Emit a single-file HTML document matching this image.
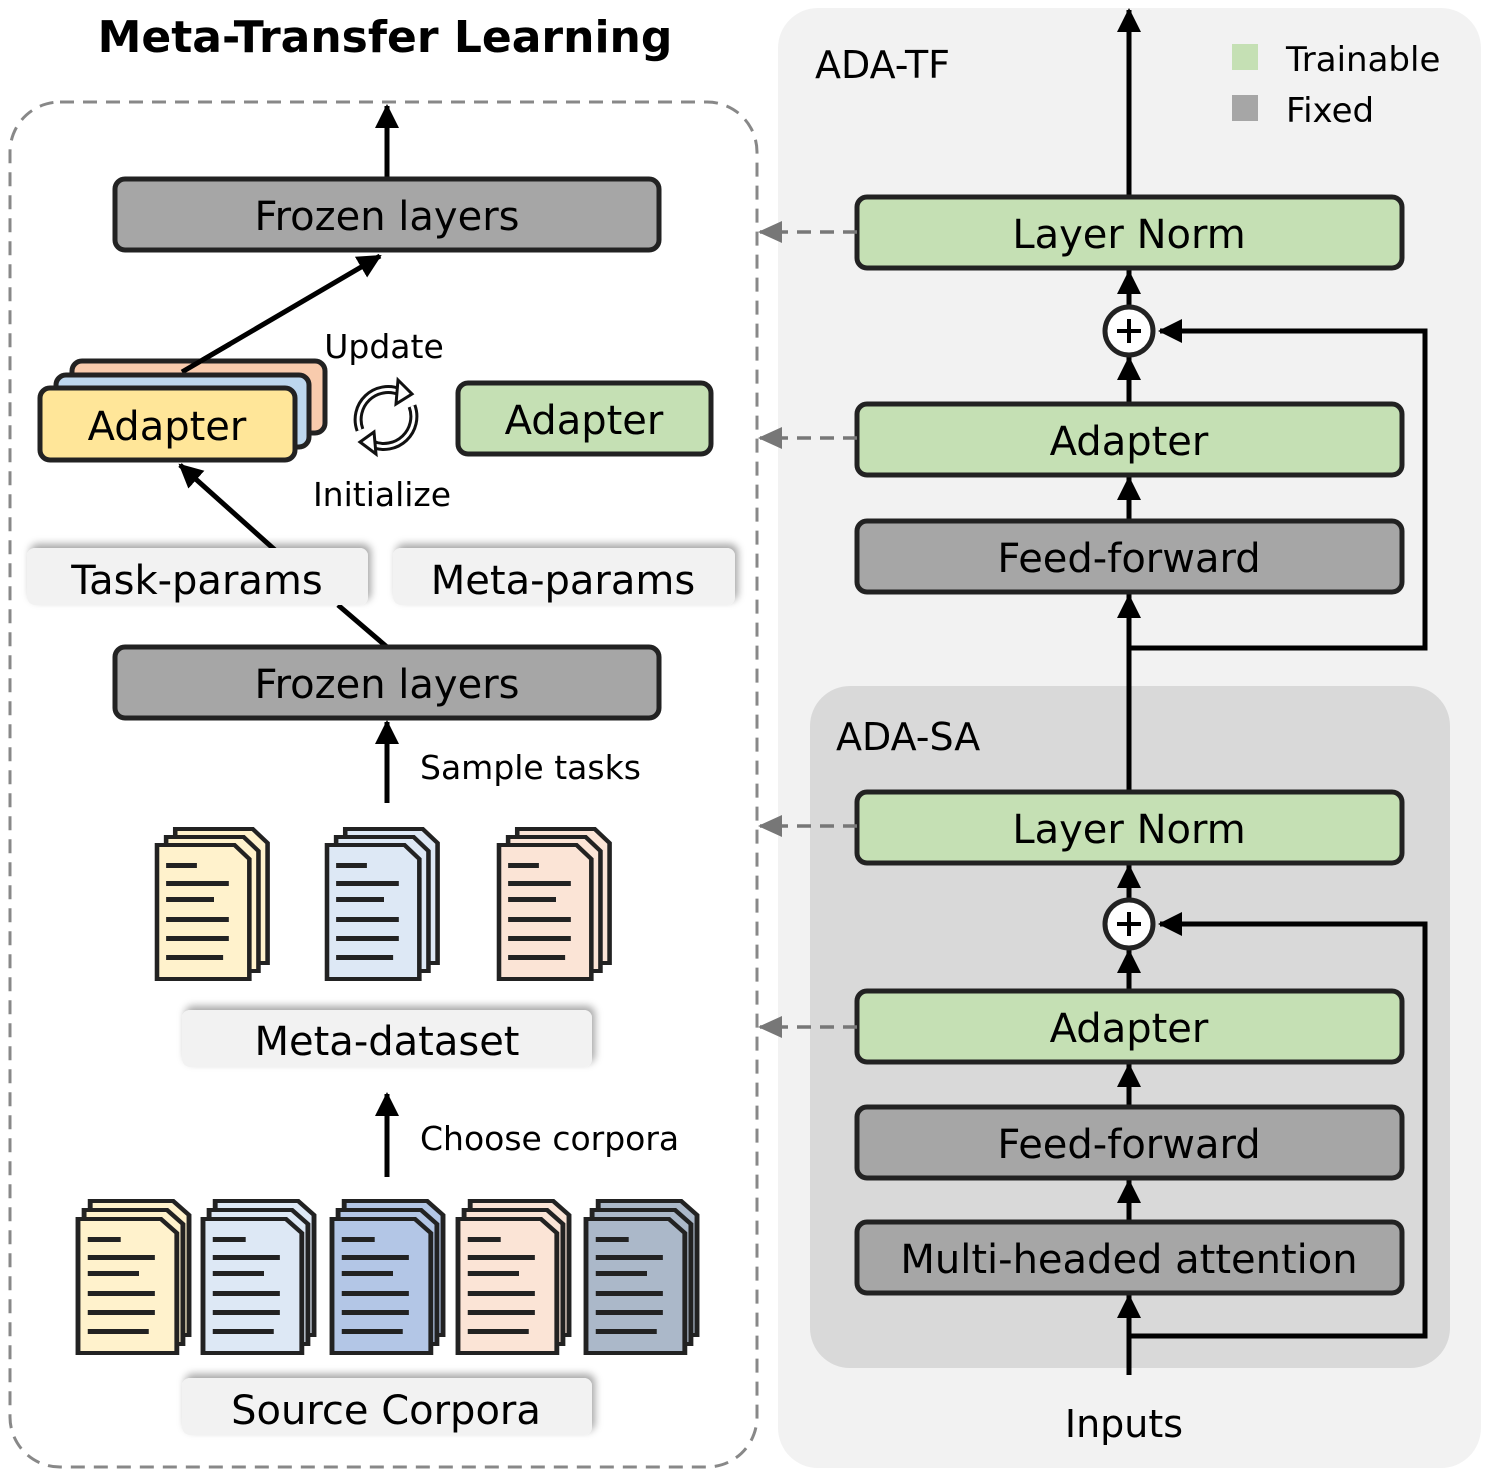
<!DOCTYPE html>
<html><head><meta charset="utf-8"><style>
html,body{margin:0;padding:0;background:#fff}
svg text{font-family:"DejaVu Sans","Liberation Sans",sans-serif}
</style></head><body>
<svg width="1489" height="1475" viewBox="0 0 1489 1475" xmlns="http://www.w3.org/2000/svg">
<defs>
<marker id="ahb" markerWidth="26" markerHeight="24" refX="22" refY="12" orient="auto" markerUnits="userSpaceOnUse"><path d="M0,0 L24,12 L0,24 z" fill="#000"/></marker>
<marker id="ahg" markerWidth="24" markerHeight="22" refX="22" refY="11" orient="auto" markerUnits="userSpaceOnUse"><path d="M0,0 L24,11 L0,22 z" fill="#777"/></marker>
<filter id="sh" x="-10%" y="-30%" width="120%" height="160%"><feDropShadow dx="3" dy="-4" stdDeviation="4" flood-color="#000" flood-opacity="0.35"/></filter>
<g id="page"><path d="M0,0 H68 L81,14 V134 H0 Z" stroke="#222" stroke-width="4"/></g>
<g id="lines" fill="#222"><rect x="8" y="18" width="27" height="5"/><rect x="8" y="36" width="55" height="5"/><rect x="8" y="52" width="42" height="5"/><rect x="8" y="72" width="55" height="5"/><rect x="8" y="91" width="55" height="5"/><rect x="8" y="110" width="50" height="5"/></g>
</defs>

<!-- LEFT -->
<text x="385" y="52" font-size="44" font-weight="bold" text-anchor="middle">Meta-Transfer Learning</text>
<rect x="10" y="102" width="747" height="1365" rx="50" fill="none" stroke="#888" stroke-width="3" stroke-dasharray="14,9"/>

<line x1="387" y1="179" x2="387" y2="106" stroke="#000" stroke-width="5" marker-end="url(#ahb)"/>
<rect x="115" y="179" width="544" height="71" rx="10" fill="#a6a6a6" stroke="#222" stroke-width="5"/>
<text x="387" y="230" font-size="40" text-anchor="middle">Frozen layers</text>

<line x1="182" y1="372" x2="380" y2="256" stroke="#000" stroke-width="5" marker-end="url(#ahb)"/>
<rect x="72" y="361" width="253" height="72" rx="10" fill="#f8cbad" stroke="#222" stroke-width="5"/>
<line x1="182" y1="372" x2="230" y2="344" stroke="#000" stroke-width="5"/>
<rect x="56" y="375" width="253" height="72" rx="10" fill="#bdd7ee" stroke="#222" stroke-width="5"/>
<rect x="40" y="388" width="255" height="72" rx="10" fill="#ffe699" stroke="#222" stroke-width="5"/>
<text x="167" y="440" font-size="40" text-anchor="middle">Adapter</text>
<rect x="458" y="383" width="253" height="71" rx="10" fill="#c5e0b4" stroke="#222" stroke-width="5"/>
<text x="584" y="434" font-size="40" text-anchor="middle">Adapter</text>
<text x="384" y="358" font-size="33" text-anchor="middle">Update</text>
<text x="382" y="506" font-size="33" text-anchor="middle">Initialize</text>
<g fill="none" stroke="#111" stroke-width="9">
<path d="M400,392 A30,30 0 0 0 360,430"/><path d="M372,444 A30,30 0 0 0 412,406"/>
</g>
<g fill="none" stroke="#fff" stroke-width="3">
<path d="M400,392 A30,30 0 0 0 360,430"/><path d="M372,444 A30,30 0 0 0 412,406"/>
</g>
<path d="M398,380 L412,394 L396,404 Z" fill="#fff" stroke="#111" stroke-width="3"/>
<path d="M374,432 L360,442 L376,454 Z" fill="#fff" stroke="#111" stroke-width="3"/>

<line x1="275" y1="550" x2="180" y2="465" stroke="#000" stroke-width="5" marker-end="url(#ahb)"/>
<line x1="338" y1="605" x2="387" y2="647" stroke="#000" stroke-width="5"/>
<rect x="27" y="548" width="341" height="57" rx="8" fill="#f2f2f2" filter="url(#sh)"/>
<text x="197" y="594" font-size="40" text-anchor="middle">Task-params</text>
<rect x="393" y="548" width="342" height="57" rx="8" fill="#f2f2f2" filter="url(#sh)"/>
<text x="563" y="594" font-size="40" text-anchor="middle">Meta-params</text>

<rect x="115" y="647" width="544" height="71" rx="10" fill="#a6a6a6" stroke="#222" stroke-width="5"/>
<text x="387" y="698" font-size="40" text-anchor="middle">Frozen layers</text>
<line x1="387" y1="803" x2="387" y2="722" stroke="#000" stroke-width="5" marker-end="url(#ahb)"/>
<text x="420" y="779" font-size="33">Sample tasks</text>

<g transform="translate(157,845) scale(1.14,1)">
<use href="#page" x="16" y="-16" fill="#fff2cc"/><use href="#page" x="8" y="-8" fill="#fff2cc"/><use href="#page" fill="#fff2cc"/><use href="#lines"/></g>
<g transform="translate(327,845) scale(1.14,1)">
<use href="#page" x="16" y="-16" fill="#dde8f5"/><use href="#page" x="8" y="-8" fill="#dde8f5"/><use href="#page" fill="#dde8f5"/><use href="#lines"/></g>
<g transform="translate(499,845) scale(1.14,1)">
<use href="#page" x="16" y="-16" fill="#fbe4d6"/><use href="#page" x="8" y="-8" fill="#fbe4d6"/><use href="#page" fill="#fbe4d6"/><use href="#lines"/></g>

<rect x="182" y="1010" width="410" height="57" rx="8" fill="#f2f2f2" filter="url(#sh)"/>
<text x="387" y="1055" font-size="40" text-anchor="middle">Meta-dataset</text>
<line x1="387" y1="1177" x2="387" y2="1094" stroke="#000" stroke-width="5" marker-end="url(#ahb)"/>
<text x="420" y="1150" font-size="33">Choose corpora</text>

<g transform="translate(78,1219) scale(1.22,1)"><use href="#page" x="10" y="-18" fill="#fff2cc"/><use href="#page" x="5" y="-9" fill="#fff2cc"/><use href="#page" fill="#fff2cc"/><use href="#lines"/></g>
<g transform="translate(203,1219) scale(1.22,1)"><use href="#page" x="10" y="-18" fill="#dde8f5"/><use href="#page" x="5" y="-9" fill="#dde8f5"/><use href="#page" fill="#dde8f5"/><use href="#lines"/></g>
<g transform="translate(332,1219) scale(1.22,1)"><use href="#page" x="10" y="-18" fill="#b3c6e6"/><use href="#page" x="5" y="-9" fill="#b3c6e6"/><use href="#page" fill="#b3c6e6"/><use href="#lines"/></g>
<g transform="translate(458,1219) scale(1.22,1)"><use href="#page" x="10" y="-18" fill="#fbe4d6"/><use href="#page" x="5" y="-9" fill="#fbe4d6"/><use href="#page" fill="#fbe4d6"/><use href="#lines"/></g>
<g transform="translate(586,1219) scale(1.22,1)"><use href="#page" x="10" y="-18" fill="#abb8c9"/><use href="#page" x="5" y="-9" fill="#abb8c9"/><use href="#page" fill="#abb8c9"/><use href="#lines"/></g>

<rect x="182" y="1378" width="410" height="57" rx="8" fill="#f2f2f2" filter="url(#sh)"/>
<text x="386" y="1424" font-size="40" text-anchor="middle">Source Corpora</text>

<!-- RIGHT -->
<rect x="778" y="8" width="703" height="1460" rx="40" fill="#f2f2f2"/>
<rect x="810" y="686" width="640" height="682" rx="40" fill="#d9d9d9"/>
<text x="815" y="78" font-size="38">ADA-TF</text>
<text x="836" y="750" font-size="38">ADA-SA</text>
<rect x="1232" y="44" width="26" height="26" fill="#c5e0b4"/>
<rect x="1232" y="95" width="26" height="26" fill="#a6a6a6"/>
<text x="1286" y="71" font-size="34">Trainable</text>
<text x="1286" y="122" font-size="34">Fixed</text>

<line x1="1129" y1="1375" x2="1129" y2="10" stroke="#000" stroke-width="5" marker-end="url(#ahb)"/>
<path d="M1129,648 H1425 V331 H1160" fill="none" stroke="#000" stroke-width="5" marker-end="url(#ahb)"/>
<path d="M1129,1336 H1425 V924 H1160" fill="none" stroke="#000" stroke-width="5" marker-end="url(#ahb)"/>
<line x1="1129" y1="645" x2="1129" y2="596" stroke="#000" stroke-width="5" marker-end="url(#ahb)"/>
<line x1="1129" y1="520" x2="1129" y2="478" stroke="#000" stroke-width="5" marker-end="url(#ahb)"/>
<line x1="1129" y1="404" x2="1129" y2="358" stroke="#000" stroke-width="5" marker-end="url(#ahb)"/>
<line x1="1129" y1="306" x2="1129" y2="272" stroke="#000" stroke-width="5" marker-end="url(#ahb)"/>
<line x1="1129" y1="1335" x2="1129" y2="1296" stroke="#000" stroke-width="5" marker-end="url(#ahb)"/>
<line x1="1129" y1="1222" x2="1129" y2="1181" stroke="#000" stroke-width="5" marker-end="url(#ahb)"/>
<line x1="1129" y1="1107" x2="1129" y2="1065" stroke="#000" stroke-width="5" marker-end="url(#ahb)"/>
<line x1="1129" y1="991" x2="1129" y2="951" stroke="#000" stroke-width="5" marker-end="url(#ahb)"/>
<line x1="1129" y1="899" x2="1129" y2="866" stroke="#000" stroke-width="5" marker-end="url(#ahb)"/>

<g stroke="#222" stroke-width="5">
<rect x="857" y="197" width="545" height="71" rx="10" fill="#c5e0b4"/>
<rect x="857" y="404" width="545" height="71" rx="10" fill="#c5e0b4"/>
<rect x="857" y="521" width="545" height="71" rx="10" fill="#a6a6a6"/>
<rect x="857" y="792" width="545" height="71" rx="10" fill="#c5e0b4"/>
<rect x="857" y="991" width="545" height="71" rx="10" fill="#c5e0b4"/>
<rect x="857" y="1107" width="545" height="71" rx="10" fill="#a6a6a6"/>
<rect x="857" y="1222" width="545" height="71" rx="10" fill="#a6a6a6"/>
<circle cx="1129" cy="331" r="24" fill="#fff"/>
<circle cx="1129" cy="924" r="24" fill="#fff"/>
</g>
<g stroke="#000" stroke-width="4">
<line x1="1117" y1="331" x2="1141" y2="331"/><line x1="1129" y1="319" x2="1129" y2="343"/>
<line x1="1117" y1="924" x2="1141" y2="924"/><line x1="1129" y1="912" x2="1129" y2="936"/>
</g>
<g font-size="40" text-anchor="middle">
<text x="1129" y="248">Layer Norm</text>
<text x="1129" y="455">Adapter</text>
<text x="1129" y="572">Feed-forward</text>
<text x="1129" y="843">Layer Norm</text>
<text x="1129" y="1042">Adapter</text>
<text x="1129" y="1158">Feed-forward</text>
<text x="1129" y="1273">Multi-headed attention</text>
</g>
<text x="1124" y="1437" font-size="38" text-anchor="middle">Inputs</text>

<g stroke="#777" stroke-width="3.5" stroke-dasharray="14,9" fill="none">
<line x1="857" y1="232" x2="760" y2="232" marker-end="url(#ahg)"/>
<line x1="857" y1="438" x2="760" y2="438" marker-end="url(#ahg)"/>
<line x1="857" y1="826" x2="760" y2="826" marker-end="url(#ahg)"/>
<line x1="857" y1="1027" x2="760" y2="1027" marker-end="url(#ahg)"/>
</g>
</svg>
</body></html>
